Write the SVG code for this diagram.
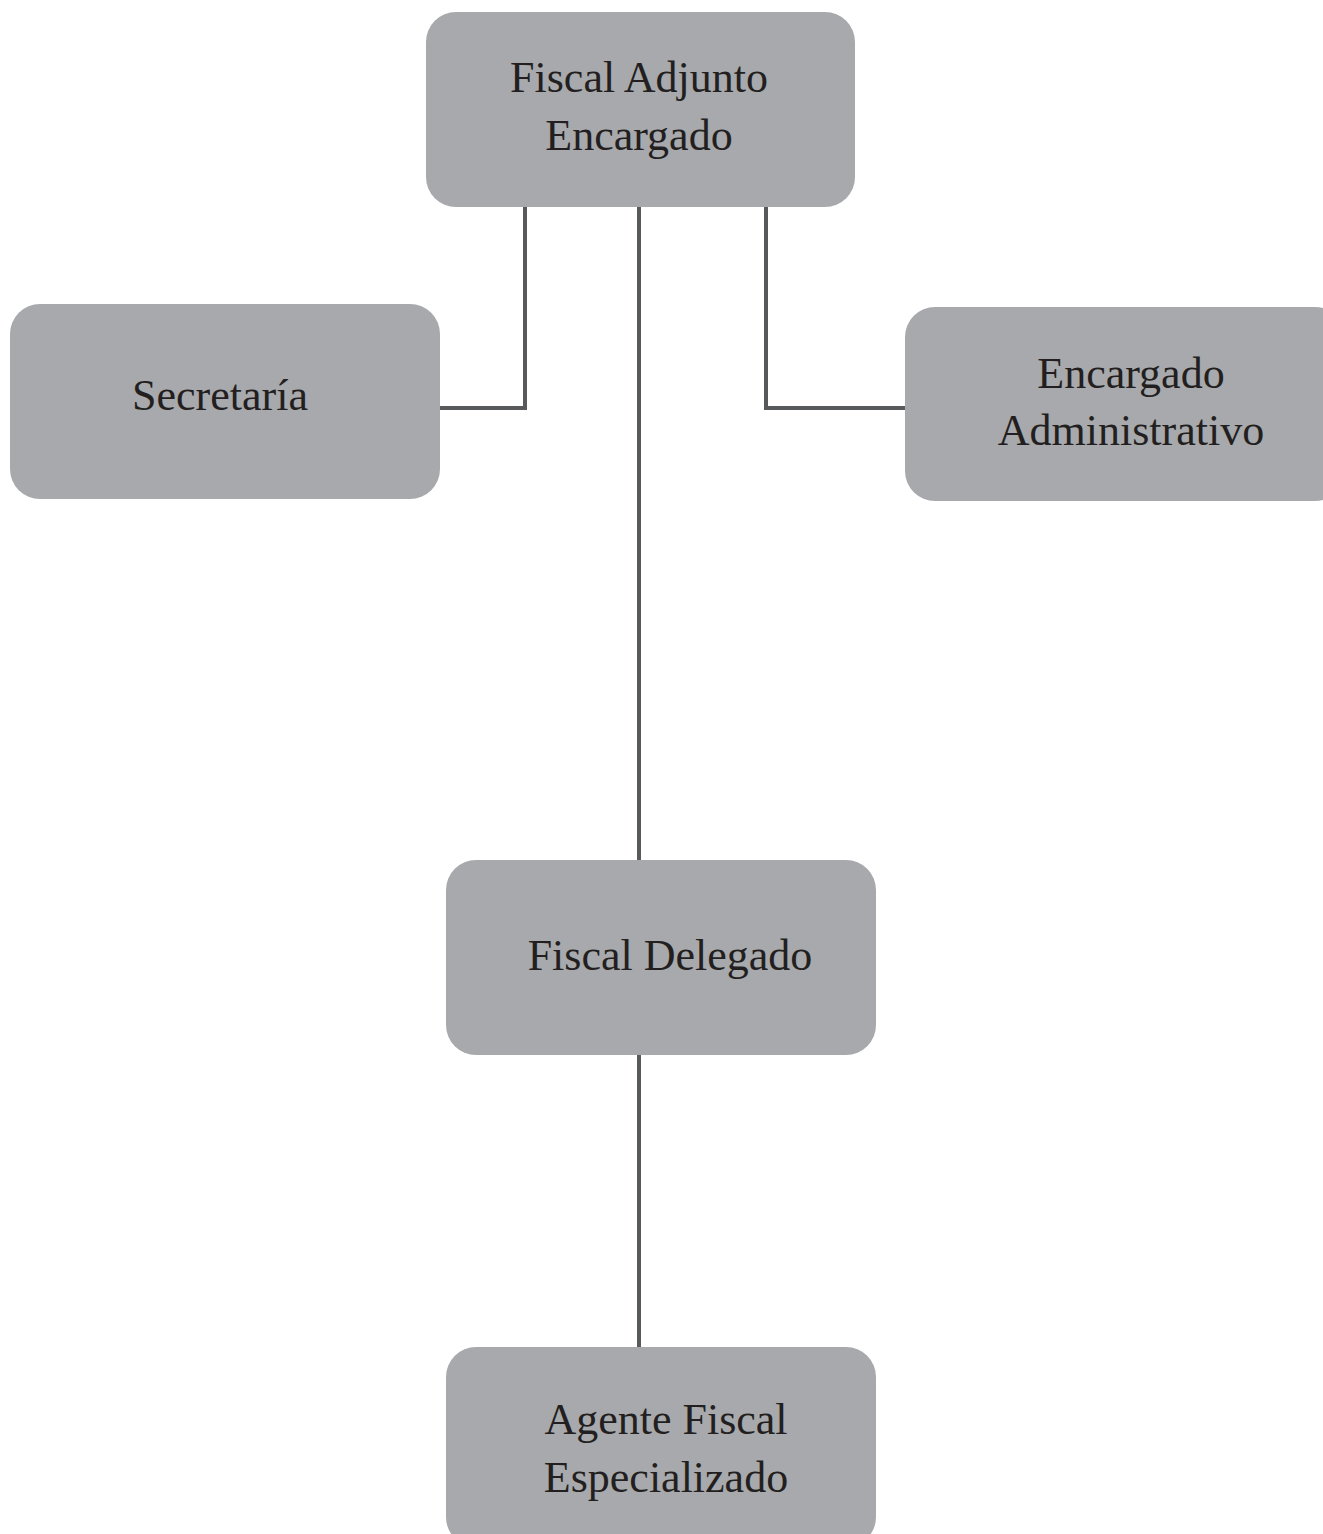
<svg xmlns="http://www.w3.org/2000/svg" width="1323" height="1534" viewBox="0 0 1323 1534">
<style>
.box{fill:#a7a9ac;}
.lbl{font-family:"Liberation Serif","Times New Roman",serif;font-size:44px;fill:#231f20;text-anchor:middle;}
.con{fill:none;stroke:#58595b;stroke-width:4;}
</style>
<rect width="1323" height="1534" fill="#ffffff"/>
<g id="connectors">
<polyline class="con" points="525,207 525,408 440,408"/>
<line class="con" x1="639" y1="207" x2="639" y2="860"/>
<polyline class="con" points="766,207 766,408 906,408"/>
<line class="con" x1="639" y1="1055" x2="639" y2="1348"/>
</g>
<g id="fiscal-adjunto">
<rect class="box" x="426" y="12" width="429" height="195" rx="30"/>
<text class="lbl" x="639" y="92">Fiscal Adjunto</text>
<text class="lbl" x="639" y="150">Encargado</text>
</g>
<g id="secretaria">
<rect class="box" x="10" y="304" width="430" height="195" rx="30"/>
<text class="lbl" x="220" y="410">Secretaría</text>
</g>
<g id="encargado-administrativo">
<rect class="box" x="905" y="307" width="440" height="194" rx="30"/>
<text class="lbl" x="1131" y="388">Encargado</text>
<text class="lbl" x="1131" y="445">Administrativo</text>
</g>
<g id="fiscal-delegado">
<rect class="box" x="446" y="860" width="430" height="195" rx="30"/>
<text class="lbl" x="670" y="970">Fiscal Delegado</text>
</g>
<g id="agente-fiscal">
<rect class="box" x="446" y="1347" width="430" height="200" rx="30"/>
<text class="lbl" x="666" y="1434">Agente Fiscal</text>
<text class="lbl" x="666" y="1492">Especializado</text>
</g>
</svg>
